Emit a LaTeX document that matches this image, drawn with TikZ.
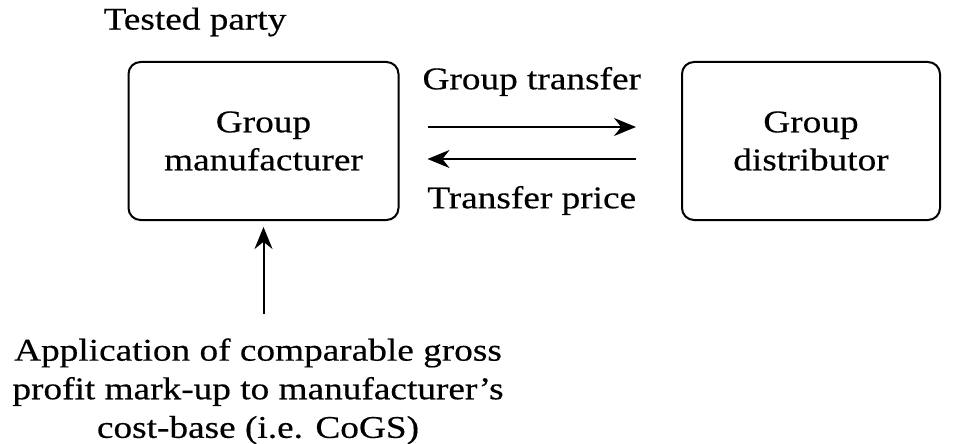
\documentclass[tikz,border=0pt]{standalone}
\usepackage{fontspec}
\setmainfont{Liberation Serif}[FakeStretch=1.18, FakeBold=0.4]
\usetikzlibrary{arrows.meta, positioning}

\tikzset{
    party/.style={draw, line width=1pt, rounded corners=6pt, minimum width=135pt,
        minimum height=79pt, align=center, font=\fontsize{15.8}{19}\selectfont},
    txt/.style={font=\fontsize{15.8}{19.3}\selectfont, align=center, inner sep=0pt},
    flow/.style={line width=1pt, -{Stealth[length=11pt, width=9pt]}}
}

\begin{document}
\begin{tikzpicture}[x=0.5pt, y=-0.5pt]
    \useasboundingbox (0,0) rectangle (953,444);

    % Parties
    \node[party] (mfr) at (263.5,141) {Group\\manufacturer};
    \node[party, minimum width=129pt] (dist) at (811,141) {Group\\distributor};
    \node[txt] (tested) at (195,22) {Tested party};

    % Flows between the parties
    \draw[flow] ([xshift=14pt, yshift=7pt]mfr.east) -- ([xshift=-22.5pt, yshift=7pt]dist.west)
        node[txt, midway, above=15pt] (goods) {Group transfer};
    \draw[flow] ([xshift=-22.5pt, yshift=-9pt]dist.west) -- ([xshift=14pt, yshift=-9pt]mfr.east)
        node[txt, midway, below=13pt] (price) {Transfer price};

    % Method
    \node[txt, anchor=north] (method) at (258,338)
        {Application of comparable gross\\profit mark-up to manufacturer's\\cost-base (i.e. CoGS)};
    \draw[flow] ([yshift=12pt]method.north -| mfr.south) -- ([yshift=-3pt]mfr.south);
\end{tikzpicture}
\end{document}
